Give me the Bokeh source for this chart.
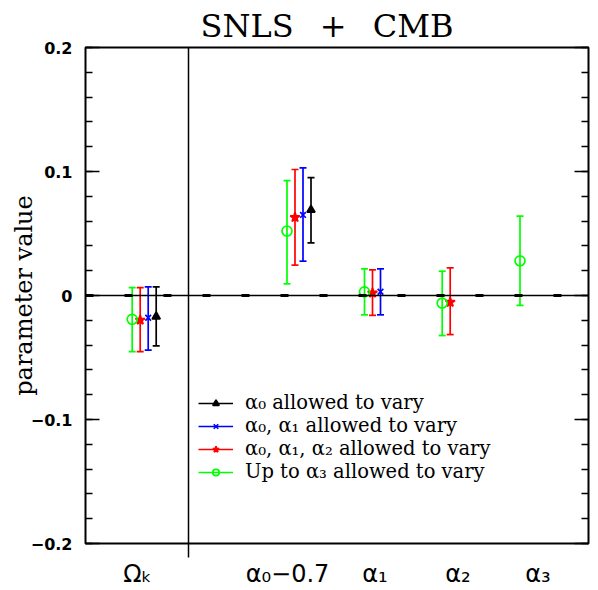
import numpy as np
from bokeh.plotting import figure
from bokeh.models import (Range1d, FixedTicker, LinearAxis, Span, Legend, LegendItem)
from bokeh.embed import file_html
from bokeh.resources import INLINE

nan = np.nan

# ---- data ----
categories = ["Ωₖ", "α₀−0.7", "α₁", "α₂", "α₃"]
series_labels = ["α₀ allowed to vary", "α₀, α₁ allowed to vary",
                 "α₀, α₁, α₂ allowed to vary", "Up to α₃ allowed to vary"]

black_val = [-0.017, 0.069, nan, nan, nan]
black_lo = [-0.0407, 0.0425, nan, nan, nan]
black_hi = [0.0069, 0.095, nan, nan, nan]

blue_val = [-0.0179, 0.065, 0.003, nan, nan]
blue_lo = [-0.044, 0.0277, -0.0156, nan, nan]
blue_hi = [0.0069, 0.103, 0.0215, nan, nan]

red_val = [-0.0198, 0.063, 0.002, -0.0054, nan]
red_lo = [-0.0453, 0.0245, -0.016, -0.0315, nan]
red_hi = [0.0063, 0.1016, 0.0207, 0.0223, nan]

green_val = [-0.0192, 0.052, 0.003, -0.0062, 0.028]
green_lo = [-0.0453, 0.0094, -0.0156, -0.0323, -0.008]
green_hi = [0.0063, 0.0927, 0.0215, 0.0196, 0.064]

y_ticks = [-0.2, -0.1, 0, 0.1, 0.2]
y_tick_labels = ["−0.2", "−0.1", "0", "0.1", "0.2"]

# ---- layout (pixel-like x units across the frame) ----
cat_pos = [58.7, 213.5, 291.0, 368.7, 446.5]
label_pos = [52, 202, 289.5, 372.5, 452.5]
divider_x = 103
offsets = {"black": 12, "blue": 4, "red": -4, "green": -12}

p = figure(width=598, height=590, output_backend="svg", toolbar_location=None,
           x_range=Range1d(0, 503), y_range=Range1d(-0.2, 0.2),
           min_border_left=85, min_border_right=10, min_border_top=47,
           min_border_bottom=47, x_axis_type=None, y_axis_type=None)
p.background_fill_color = "white"
p.border_fill_color = "white"
p.outline_line_color = "black"
p.outline_line_width = 2
p.xgrid.visible = False
p.ygrid.visible = False

p.title.text = "SNLS \u2002+ \u2002CMB"
p.title.text_font = "DejaVu Serif"
p.title.text_font_size = "32px"
p.title.text_font_style = "normal"
p.title.text_color = "black"
p.title.align = "left"
p.title.offset = 115
p.title.standoff = 6

yt = FixedTicker(ticks=y_ticks,
                 minor_ticks=[round(-0.2 + 0.02 * i, 2) for i in range(21)])

ly = LinearAxis(ticker=yt)
ly.major_label_overrides = {t: l for t, l in zip(y_ticks, y_tick_labels)}
ly.axis_line_color = None
ly.major_tick_in = 14
ly.major_tick_out = 0
ly.minor_tick_in = 7
ly.minor_tick_out = 0
ly.major_tick_line_width = 1.5
ly.minor_tick_line_width = 1.5
ly.major_label_standoff = 13
ly.major_label_text_font = "DejaVu Sans"
ly.major_label_text_font_style = "bold"
ly.major_label_text_font_size = "16px"
ly.major_label_text_color = "black"
ly.axis_label = "parameter value"
ly.axis_label_text_font = "DejaVu Serif"
ly.axis_label_text_font_style = "normal"
ly.axis_label_text_font_size = "24px"
ly.axis_label_text_color = "black"
ly.axis_label_standoff = -10
p.add_layout(ly, "left")

ry = LinearAxis(ticker=yt)
ry.axis_line_color = None
ry.major_tick_in = 14
ry.major_tick_out = 0
ry.minor_tick_in = 7
ry.minor_tick_out = 0
ry.major_tick_line_width = 1.5
ry.minor_tick_line_width = 1.5
ry.major_label_overrides = {t: "" for t in y_ticks}
ry.major_label_text_color = None
ry.major_label_text_font_size = "1px"
ry.major_label_standoff = 0
p.add_layout(ry, "right")

bx = LinearAxis(ticker=FixedTicker(ticks=label_pos, minor_ticks=[divider_x]))
bx.major_label_overrides = {t: c for t, c in zip(label_pos, categories)}
bx.axis_line_color = None
bx.major_tick_line_color = None
bx.major_tick_out = 0
bx.major_tick_in = 0
bx.minor_tick_line_color = "black"
bx.minor_tick_line_width = 1.5
bx.minor_tick_out = 14
bx.minor_tick_in = 0
bx.major_label_standoff = 2
bx.major_label_text_font = "DejaVu Sans"
bx.major_label_text_font_size = "24px"
bx.major_label_text_color = "black"
p.add_layout(bx, "below")

p.add_layout(Span(location=divider_x, dimension="height", line_color="black", line_width=1.5))
p.add_layout(Span(location=0, dimension="width", line_color="black", line_width=1.5))
p.add_layout(Span(location=0, dimension="width", line_color="black", line_width=3,
                  line_dash="8 31"))

series = [
    ("black", black_val, black_lo, black_hi, "triangle", 8, True),
    ("blue", blue_val, blue_lo, blue_hi, "x", 8, True),
    ("red", red_val, red_lo, red_hi, "star", 10, True),
    ("green", green_val, green_lo, green_hi, "circle", 10, False),
]
colors = {"black": "#000000", "blue": "#0000ff", "red": "#ff0000", "green": "#00ff00"}

cap = 3.5
legend_y = [129, 106, 83, 60]
for (name, val, lo, hi, marker, size, fill), lab, ly_pos in zip(series, series_labels, legend_y):
    v = np.array(val, dtype=float)
    l = np.array(lo, dtype=float)
    h = np.array(hi, dtype=float)
    m = ~np.isnan(v)
    xs = np.array(cat_pos)[m] + offsets[name]
    c = colors[name]
    bars = p.segment(x0=xs, y0=l[m], x1=xs, y1=h[m], line_color=c, line_width=1.7)
    p.segment(x0=np.concatenate([xs - cap, xs - cap]), y0=np.concatenate([l[m], h[m]]),
              x1=np.concatenate([xs + cap, xs + cap]), y1=np.concatenate([l[m], h[m]]),
              line_color=c, line_width=1.7)
    pts = p.scatter(x=xs, y=v[m], marker=marker, size=size, line_color=c,
                    fill_color=(c if fill else None), line_width=1.7)
    leg = Legend(items=[LegendItem(label=lab, renderers=[bars, pts])], location=(113, ly_pos))
    leg.background_fill_alpha = 0
    leg.border_line_color = None
    leg.padding = 0
    leg.margin = 0
    leg.glyph_width = 35
    leg.glyph_height = 16
    leg.label_height = 16
    leg.label_standoff = 12
    leg.label_text_font = "DejaVu Serif"
    leg.label_text_font_size = "19.5px"
    leg.label_text_line_height = 1.0
    leg.label_text_color = "black"
    p.add_layout(leg, "center")

open("out.html", "w").write(file_html(p, INLINE))
